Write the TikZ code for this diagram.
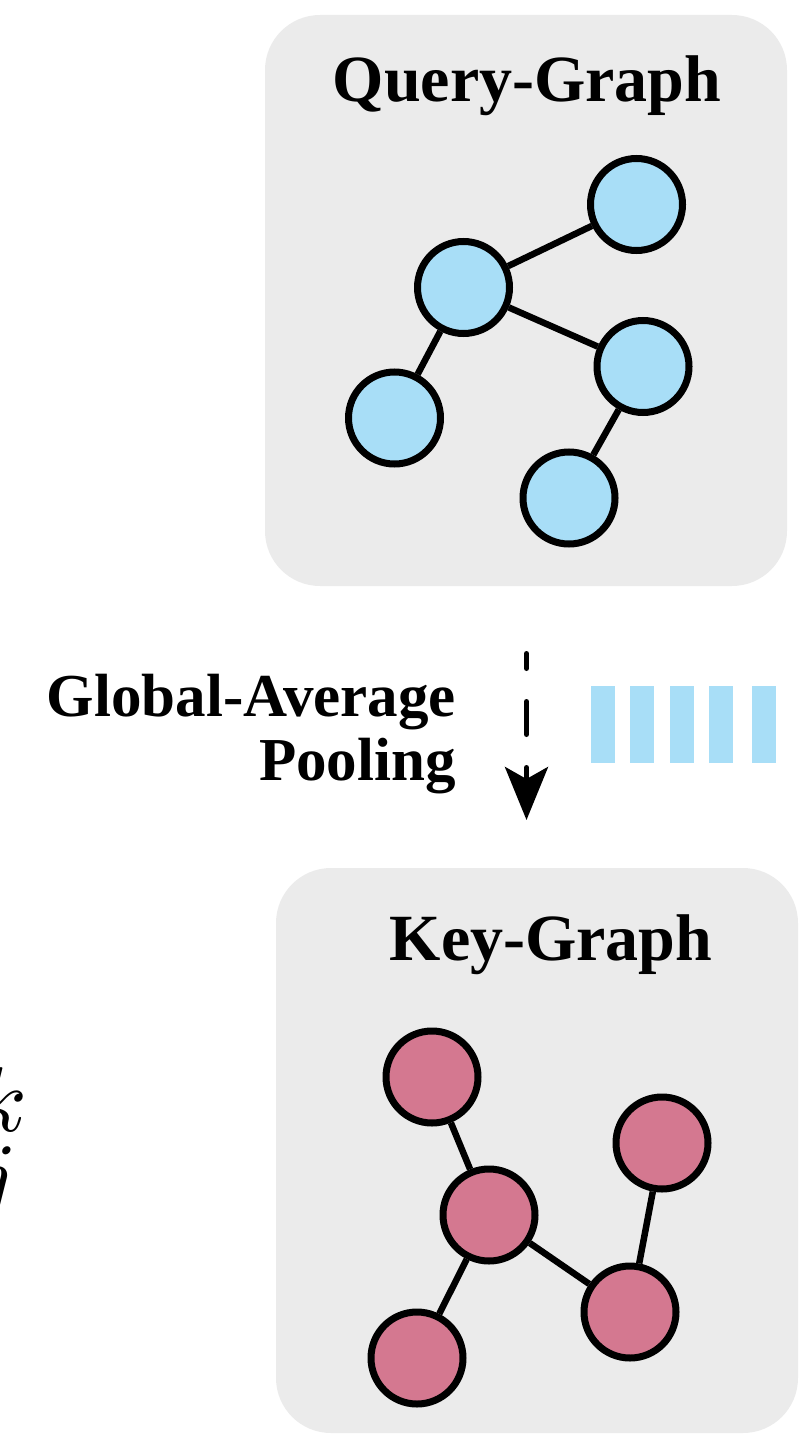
\documentclass[tikz,border=0pt]{standalone}
\usepackage{graphicx}
\usepackage{fontspec}
\setmainfont{Liberation Serif}
\usetikzlibrary{arrows.meta}
\definecolor{boxgray}{HTML}{EBEBEB}
\definecolor{qblue}{HTML}{A8DEF7}
\definecolor{kpink}{HTML}{D47890}
\tikzset{
  panel/.style={fill=boxgray, draw=none, rounded corners=55pt},
  qnode/.style={circle, draw=black, line width=7pt, fill=qblue, minimum size=92pt, inner sep=0pt},
  knode/.style={circle, draw=black, line width=7pt, fill=kpink, minimum size=92pt, inner sep=0pt},
  link/.style={line width=6.5pt, draw=black},
  title/.style={font=\fontsize{66}{66}\selectfont\bfseries, anchor=base, inner sep=0pt},
  bar/.style={fill=qblue, draw=none},
  sidelabel/.style={font=\fontsize{61}{61}\selectfont\bfseries, anchor=base east, inner sep=0pt},
  mathletter/.style={anchor=base east, inner sep=0pt, font=\fontsize{10}{10}\selectfont},
}
\begin{document}
\begin{tikzpicture}[x=1pt, y=-1pt]
\useasboundingbox (0,0) rectangle (802,1434);
\clip (0,0) rectangle (802,1434);

% panels
\path[panel] (265,15) rectangle (787,586);
\path[panel] (276,868) rectangle (798,1433);

% titles
\node[title] (qtitle) at (527,102) {Query-Graph};
\node[title] (ktitle) at (551,960) {Key-Graph};

% query graph
\node[qnode] (q1) at (636.5,204.5) {};
\node[qnode] (q2) at (463.5,287.5) {};
\node[qnode] (q3) at (643,366.5) {};
\node[qnode] (q4) at (394.5,418) {};
\node[qnode] (q5) at (569,498) {};
\draw[link] (q2) -- (q1);
\draw[link] (q2) -- (q3);
\draw[link] (q2) -- (q4);
\draw[link] (q3) -- (q5);

% key graph
\node[knode] (k1) at (432,1077) {};
\node[knode] (k2) at (662,1143) {};
\node[knode] (k3) at (489,1215) {};
\node[knode] (k4) at (630,1312) {};
\node[knode] (k5) at (417,1358) {};
\draw[link] (k1) -- (k3);
\draw[link] (k3) -- (k4);
\draw[link] (k3) -- (k5);
\draw[link] (k4) -- (k2);

% pooling label
\node[sidelabel] (gap1) at (456,716) {Global-Average};
\node[sidelabel] (gap2) at (456,780) {Pooling};

% dashed arrow
\coordinate (arrS) at (526.5,653.5);
\coordinate (arrE) at (526.5,820);
\draw[line width=5pt, line cap=round, dash pattern=on 33pt off 33pt, dash phase=18pt,
      -{Stealth[length=53pt, width=43pt, inset=12pt]}] (arrS) -- (arrE);

% pooled feature bars
\path[bar] (591,686) rectangle (615,763);
\path[bar] (630,686) rectangle (654,763);
\path[bar] (670,686) rectangle (694,763);
\path[bar] (709,686) rectangle (733,763);
\path[bar] (752,686) rectangle (776,763);

% cut-off math symbols at left edge
\node[mathletter] (supk) at (27,1131) {\scalebox{9.2}{$k$}};
\node[mathletter] (subj) at (18,1207) {\scalebox{9.2}{$j$}};
\end{tikzpicture}
\end{document}
